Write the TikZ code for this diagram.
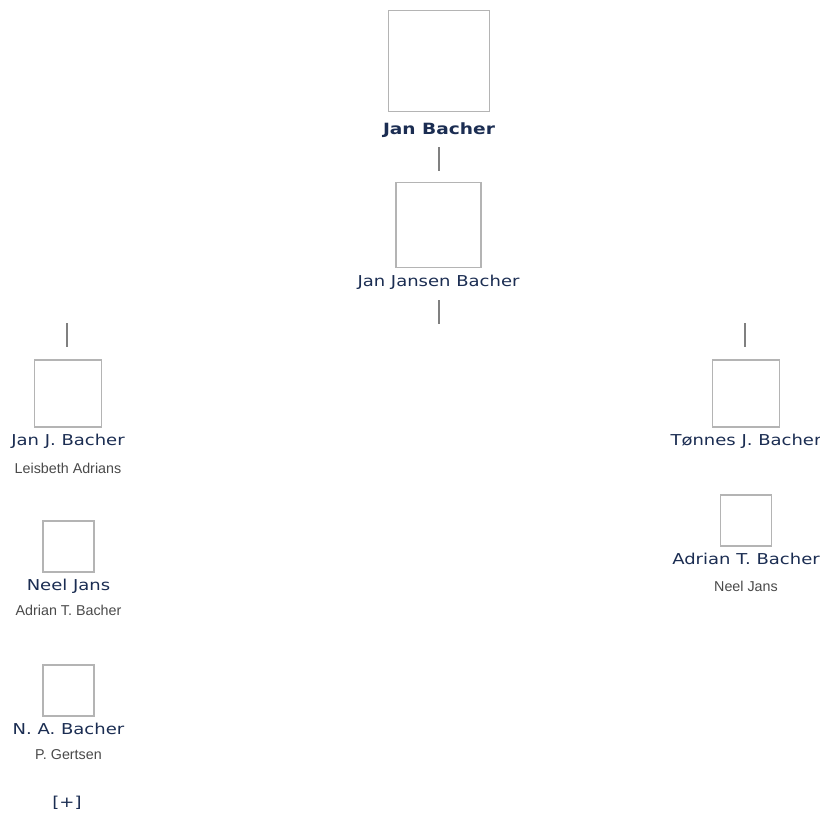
\documentclass[tikz,border=0pt]{standalone}
\usepackage{fontspec}
\setmainfont{DejaVu Sans}
\newfontfamily\namefont[FakeStretch=1.2]{DejaVu Sans}
\newfontfamily\subfont{Liberation Sans}
\usepackage{xcolor}
\usepackage{tikz}
\definecolor{namecol}{HTML}{1B2D52}
\definecolor{subcol}{HTML}{4A4A4A}
\definecolor{boxcol}{HTML}{B4B4B4}
\definecolor{stubcol}{HTML}{808080}

\begin{document}
\begin{tikzpicture}[x=1pt,y=-1pt,
photo/.style={draw=boxcol,line width=1.6pt,fill=white,inner sep=0pt,minimum size=#1},
pname/.style={text=namecol,font=\namefont\fontsize{15}{17}\selectfont,inner sep=0pt,anchor=base},
spouse/.style={text=subcol,font=\subfont\fontsize{14.3}{16}\selectfont,inner sep=0pt,anchor=base},
stub/.style={draw=stubcol,line width=2.5pt}]
\useasboundingbox[fill=white](0,0)rectangle(820,814);
%root and father
\node[photo=101pt](root)at(439,61){};
\node[pname,font=\namefont\bfseries\fontsize{15.5}{17}\selectfont](rootname)at(439,134){Jan Bacher};
\node[photo=85pt](father)at(438.5,225){};
\node[pname](fathername)at(438.5,286){Jan Jansen Bacher};
\coordinate(s1a)at(439,147);\coordinate(s1b)at(439,171);
\coordinate(s2a)at(439,300);\coordinate(s2b)at(439,324);
\draw[stub](s1a)--(s1b) (s2a)--(s2b);
%left branch
\coordinate(s3a)at(67,323);\coordinate(s3b)at(67,347);
\draw[stub](s3a)--(s3b);
\node[photo=67pt](jan)at(68,393.5){};
\node[pname](janname)at(68,445){Jan J. Bacher};
\node[spouse](janwife)at(68,473){Leisbeth Adrians};
\node[photo=51pt](neel)at(68.5,546.5){};
\node[pname](neelname)at(68.5,590){Neel Jans};
\node[spouse](neelhusb)at(68.5,615){Adrian T. Bacher};
\node[photo=51pt](na)at(68.5,690.5){};
\node[pname](naname)at(68.5,734){N. A. Bacher};
\node[spouse](nawife)at(68.5,759){P. Gertsen};
\node[text=namecol,font=\namefont\fontsize{15}{17}\selectfont,inner sep=0pt](more)at(67,803){[+]};
%right branch
\coordinate(s4a)at(745,323);\coordinate(s4b)at(745,347);
\draw[stub](s4a)--(s4b);
\node[photo=67pt](tonnes)at(746,393.5){};
\node[pname](tonnesname)at(746,445){Tønnes J. Bacher};
\node[photo=51pt](adrian)at(746,520.5){};
\node[pname](adrianname)at(746,564){Adrian T. Bacher};
\node[spouse](adrianwife)at(746,591){Neel Jans};
\end{tikzpicture}
\end{document}
